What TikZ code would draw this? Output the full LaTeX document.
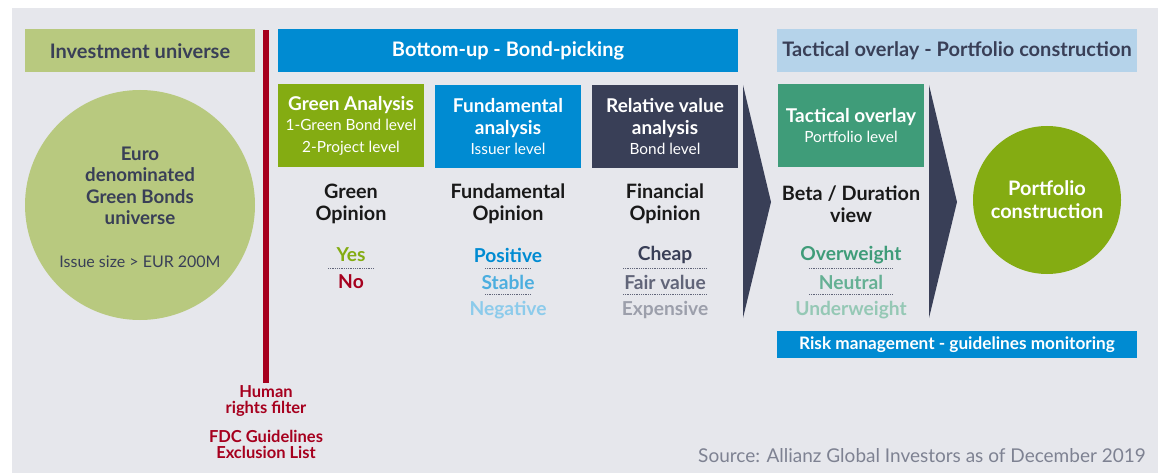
\documentclass[tikz,border=0pt]{standalone}
\usepackage{fontspec}
\setmainfont{Lato}
\usetikzlibrary{calc}
\definecolor{bgray}{HTML}{E6E7EC}
\definecolor{lgreen}{HTML}{B8C97F}
\definecolor{navy}{HTML}{393F57}
\definecolor{ablue}{HTML}{008BD2}
\definecolor{agreen}{HTML}{84AC12}
\definecolor{lblue}{HTML}{B5D3EA}
\definecolor{teal}{HTML}{3F9C79}
\definecolor{ared}{HTML}{A6001E}
\newcommand{\fs}[2]{\fontsize{#1}{#2}\selectfont}
\newcommand{\ttl}{\bfseries\fs{19}{22}}
\newcommand{\sub}{\mdseries\fs{15.4}{19.5}}

\begin{document}
\begin{tikzpicture}[x=1pt,y=-1pt,
	hdr/.style={inner sep=0pt, minimum height=43pt, font=\bfseries\fs{20}{22}},
	box/.style={inner sep=0pt, minimum width=146pt, minimum height=83pt, align=center, text=white},
	opinion/.style={align=center, inner sep=0pt, text=black!90, font=\bfseries\fs{19.8}{22}},
	val/.style={inner sep=0pt, font=\bfseries\fs{19.2}{20}},
	sep/.style={densely dotted, navy!80, line width=0.8pt},
	filt/.style={align=center, inner sep=0pt, text=ared, font=\bfseries\fs{16.5}{16}}]
	\useasboundingbox (0,0) rectangle (1158,473);
	\fill[bgray] (12,8) rectangle (1158,473);
	% headers
	\node[hdr, fill=lgreen, text=navy, minimum width=230pt] (inv) at (140,51) {Investment universe};
	\node[hdr, fill=ablue, text=white, minimum width=460pt] (bup) at (508,50.5) {Bottom-up - Bond-picking};
	\node[hdr, fill=lblue, text=navy, minimum width=360pt] (tac) at (957,50.5) {Tactical overlay - Portfolio construction};
	% universe
	\node[circle, fill=lgreen, minimum size=230pt, inner sep=0pt] (univ) at (140,205) {};
	\node[align=center, inner sep=0pt, text=navy, font=\bfseries\fs{18.7}{21.5}] (univtxt) at (140,186) {Euro\\denominated\\Green Bonds\\universe};
	\node[inner sep=0pt, text=navy, font=\fs{16}{18}] (size) at (140,262) {Issue size > EUR 200M};
	% filter
	\fill[ared] (263,30) rectangle (269,383);
	\node[filt] (human) at (266,401) {Human\\rights filter};
	\node[filt] (fdc) at (266,444) {FDC Guidelines\\Exclusion List};
	% analysis boxes
	\node[box, fill=agreen, font=\ttl] (green) at (351,125.5) {Green Analysis\\[-2pt]\sub 1-Green Bond level\\\sub 2-Project level};
	\node[box, fill=ablue, font=\ttl] (fund) at (508,126.5) {Fundamental\\analysis\\[-2pt]\sub Issuer level};
	\node[box, fill=navy, font=\ttl] (relv) at (665,126.5) {Relative value\\analysis\\[-2pt]\sub Bond level};
	\node[box, fill=teal, font=\ttl] (tover) at (851,125.5) {Tactical overlay\\[-2pt]\sub Portfolio level};
	% chevrons
	\fill[navy] (743,85) -- (771,202) -- (743,318) -- cycle;
	\fill[navy] (929,85) -- (957,202) -- (929,318) -- cycle;
	% opinions
	\node[opinion] (gop) at (351,204) {Green\\Opinion};
	\node[opinion] (fop) at (508,204) {Fundamental\\Opinion};
	\node[opinion] (rop) at (665,204) {Financial\\Opinion};
	\node[opinion] (bop) at (851,204) {Beta / Duration\\view};
	% values
	\node[val, text=agreen] (yes) at (351,255) {Yes};
	\node[val, text=ared] (no) at (351,282) {No};
	\node[val, text=ablue] (pos) at (508,255) {Positive};
	\node[val, text=ablue!70] (stab) at (508,282) {Stable};
	\node[val, text=ablue!45] (neg) at (508,310) {Negative};
	\node[val, text=navy] (cheap) at (665,255) {Cheap};
	\node[val, text=navy!80] (fair) at (665,282) {Fair value};
	\node[val, text=navy!50] (exp) at (665,310) {Expensive};
	\node[val, text=teal] (over) at (851,255) {Overweight};
	\node[val, text=teal!80] (neut) at (851,282) {Neutral};
	\node[val, text=teal!55] (under) at (851,310) {Underweight};
	\draw[sep] ($(yes)!0.5!(no)+(-23,0)$) -- ($(yes)!0.5!(no)+(23,0)$);
	\draw[sep] ($(pos)!0.5!(stab)+(-23,0)$) -- ($(pos)!0.5!(stab)+(23,0)$);
	\draw[sep] ($(stab)!0.45!(neg)+(-23,0)$) -- ($(stab)!0.45!(neg)+(23,0)$);
	\draw[sep] ($(cheap)!0.5!(fair)+(-42,0)$) -- ($(cheap)!0.5!(fair)+(42,0)$);
	\draw[sep] ($(fair)!0.45!(exp)+(-42,0)$) -- ($(fair)!0.45!(exp)+(42,0)$);
	\draw[sep] ($(over)!0.5!(neut)+(-42,0)$) -- ($(over)!0.5!(neut)+(42,0)$);
	\draw[sep] ($(neut)!0.45!(under)+(-42,0)$) -- ($(neut)!0.45!(under)+(42,0)$);
	% portfolio
	\node[circle, fill=agreen, minimum size=148pt, inner sep=0pt, align=center, text=white, font=\bfseries\fs{20}{23}] (port) at (1047,200) {Portfolio\\construction};
	\node[inner sep=0pt, minimum width=360pt, minimum height=27pt, fill=ablue, text=white, font=\bfseries\fs{17.2}{18}] (risk) at (957,344.5) {Risk management - guidelines monitoring};
	\node[anchor=east, inner sep=0pt, text=navy!65, font=\fs{19}{18}] (src) at (1146,456) {Source: Allianz Global Investors as of December 2019};
\end{tikzpicture}
\end{document}
